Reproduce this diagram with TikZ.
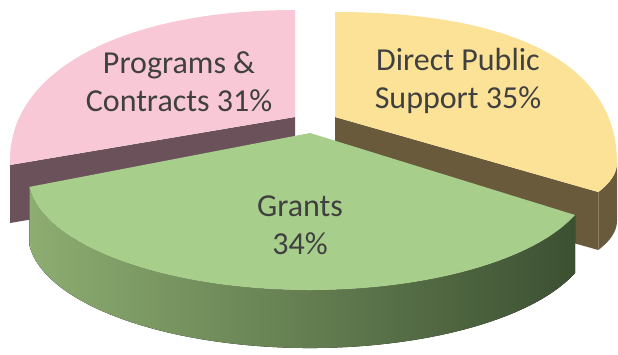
\documentclass[tikz,border=0pt]{standalone}
\usepackage{fontspec}
\setmainfont{Carlito}
\usepackage{tikz}
\usetikzlibrary{calc}

\definecolor{pinktop}{RGB}{249,200,214}
\definecolor{pinkside}{RGB}{107,82,90}
\definecolor{yellowtop}{RGB}{251,226,150}
\definecolor{yellowside}{RGB}{104,90,58}
\definecolor{greentop}{RGB}{168,206,140}
\definecolor{greenlight}{RGB}{141,173,113}
\definecolor{greendark}{RGB}{60,80,50}
\definecolor{labelgray}{RGB}{64,64,64}

\begin{document}
\begin{tikzpicture}[x=1pt,y=1pt,
    lbl/.style={align=center,text=labelgray,font=\fontsize{32}{38}\selectfont}]
    		\useasboundingbox (0,0) rectangle (618,-354);
    		% Spitzen und Ecken
    		\coordinate (pinkTip) at (295,-117);
    		\coordinate (pinkTop) at (295,-10);
    		\coordinate (pinkMid) at (10,-160);
    		\coordinate (pinkEnd) at (10,-165);
    		\coordinate (yellowTip) at (335,-117);
    		\coordinate (yellowTop) at (335,-12);
    		\coordinate (yellowMid) at (617,-163);
    		\coordinate (yellowEnd) at ($(335,-163)+(-21:282 and 81)$);
    		\coordinate (greenTip) at (310,-133);
    		\coordinate (greenLeft) at ($(310,-176)+(185.5:282 and 114)$);
    		\coordinate (greenRight) at ($(310,-176)+(340:282 and 114)$);
    		
    		%Programs & Contracts:
    		\fill[pinkside] (pinkTip) -- (pinkEnd) -- ++(0,-58) -- ($(pinkTip)+(0,-58)$) -- cycle;
    		\fill[pinkside] (pinkMid) -- (pinkEnd) -- ++(0,-58) -- ($(pinkMid)+(0,-58)$) -- cycle;
    		\fill[pinktop] (pinkTip) -- (pinkTop) .. controls (124,-10) and (10,-70) .. (pinkMid) -- (pinkEnd) -- cycle;
    		
    		%Direct Public Support:
    		\fill[yellowside] (yellowTip) -- (yellowEnd) -- ++(0,-58) -- ($(yellowTip)+(0,-58)$) -- cycle;
    		\fill[yellowside] (yellowMid) arc[start angle=0,end angle=-21,x radius=282pt,y radius=81pt] -- ++(0,-58) arc[start angle=-21,end angle=0,x radius=282pt,y radius=81pt] -- cycle;
    		\fill[yellowtop] (yellowTip) -- (yellowTop) .. controls (518,-12) and (617,-66) .. (yellowMid) arc[start angle=0,end angle=-21,x radius=282pt,y radius=81pt] -- cycle;
    		
    		%Grants:
    		\fill[left color=greenlight,right color=greendark] (greenLeft) arc[start angle=185.5,end angle=340,x radius=282pt,y radius=114pt] -- ++(0,-58) arc[start angle=340,end angle=185.5,x radius=282pt,y radius=114pt] -- cycle;
    		\fill[greentop] (greenTip) -- (greenLeft) arc[start angle=185.5,end angle=340,x radius=282pt,y radius=114pt] -- cycle;
    		
    		% Beschriftung
    		\node[lbl] (pinkLabel) at (179,-82) {Programs \&\\Contracts 31\%};
    		\node[lbl] (yellowLabel) at (458,-81) {Direct Public\\Support 35\%};
    		\node[lbl] (greenLabel) at (300,-225) {Grants\\34\%};
    		
    		\end{tikzpicture}
\end{document}
